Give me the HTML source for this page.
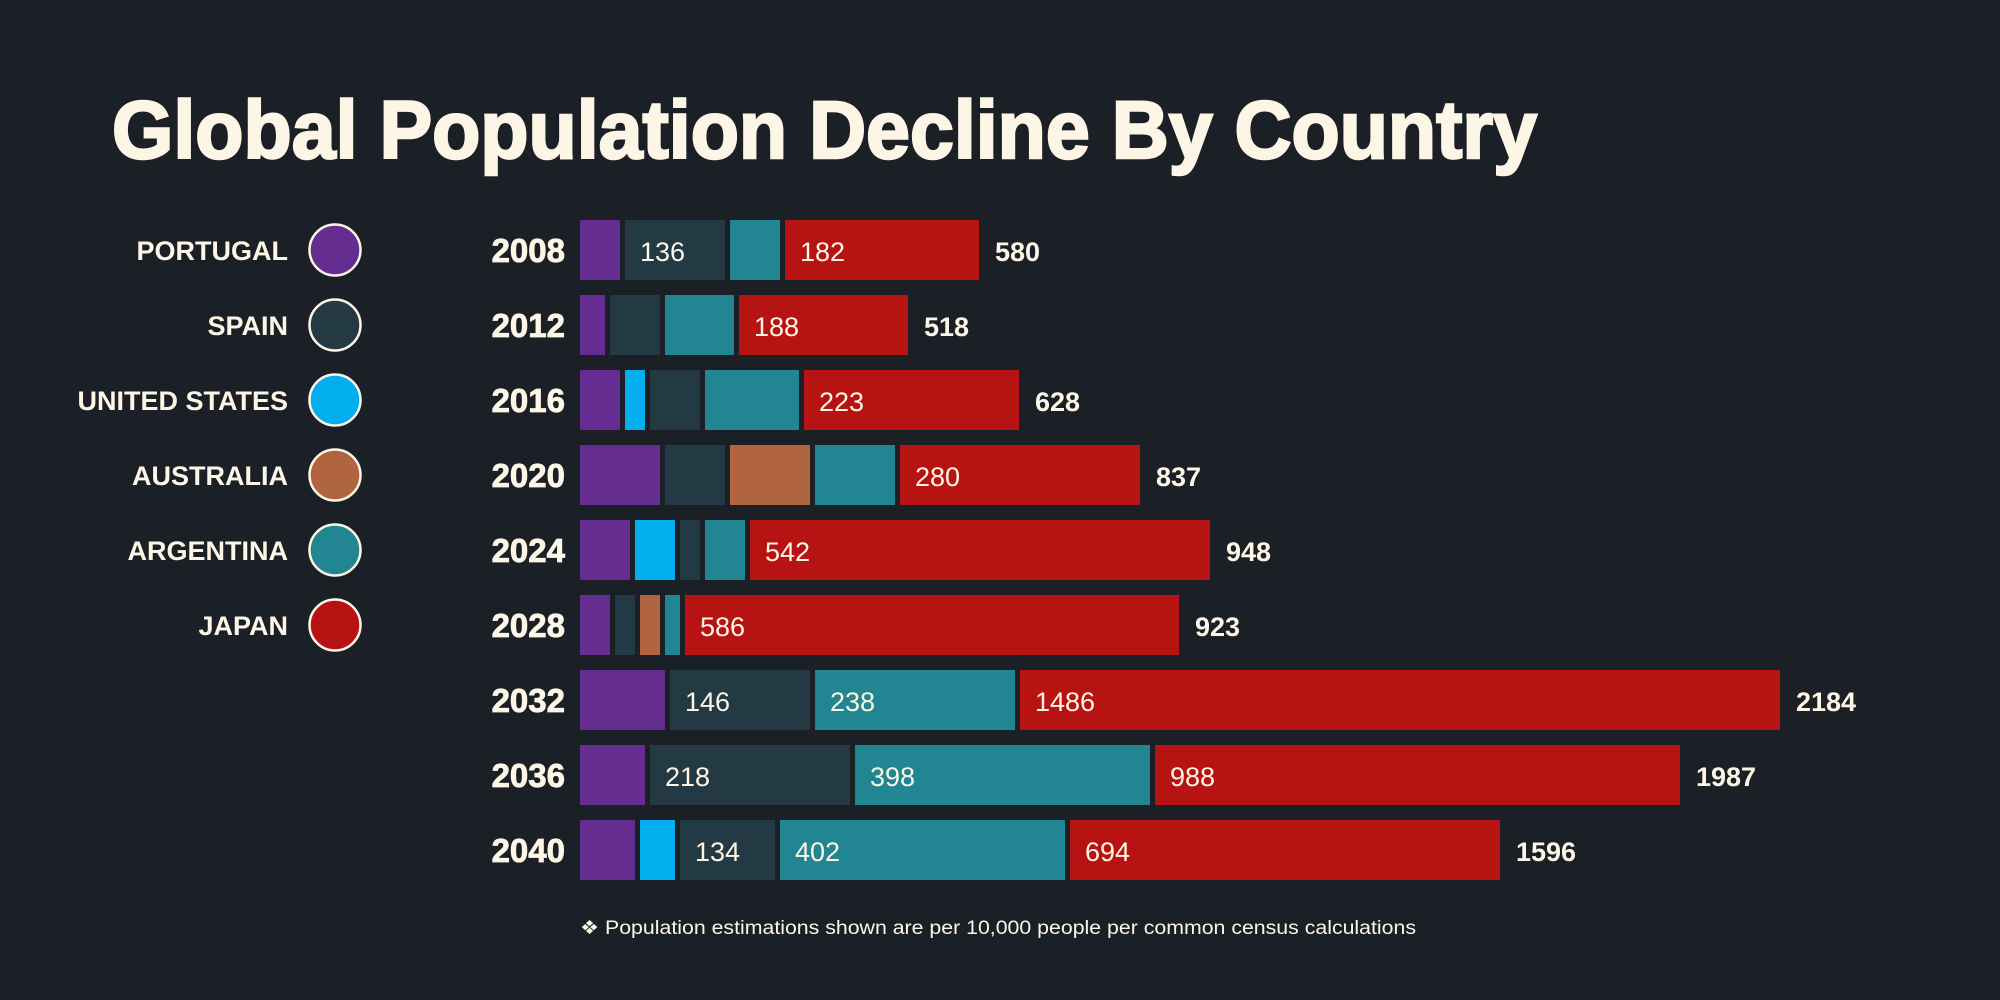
<!DOCTYPE html>
<html><head><meta charset="utf-8"><style>
html,body{margin:0;padding:0;background:#1b1f26;}
svg{display:block;}
text{font-family:"Liberation Sans",sans-serif;}
</style></head><body>
<svg id="chart" width="2000" height="1000" viewBox="0 0 2000 1000">
<rect x="0" y="0" width="2000" height="1000" fill="#1b1f26"/>
<text x="112" y="158" font-size="82" font-weight="bold" fill="#fdf6e6" stroke="#fdf6e6" stroke-width="2.5" textLength="1425" lengthAdjust="spacingAndGlyphs">Global Population Decline By Country</text>
<g id="legend"></g>
<g id="bars"></g>
<text x="580" y="934" font-size="19" fill="#fdf6e6" textLength="836" lengthAdjust="spacingAndGlyphs">❖ Population estimations shown are per 10,000 people per common census calculations</text>
</svg>
<script>
const years = ["2008","2012","2016","2020","2024","2028","2032","2036","2040"];
const seriesNames = ["PORTUGAL","SPAIN","UNITED STATES","AUSTRALIA","ARGENTINA","JAPAN"];
const seriesColors = ["#662d91","#233a45","#03aeef","#b06540","#228692","#b81313"];
const portugal = [40,25,40,80,50,30,85,65,55];
const spain = [100,50,50,60,20,20,140,200,95];
const unitedStates = [0,0,20,0,40,0,0,0,35];
const australia = [0,0,0,80,0,20,0,0,0];
const argentina = [50,69,94,80,40,15,200,295,285];
const japan = [194,169,215,240,460,494,760,525,430];
const spainLabels = ["136","","","","","","146","218","134"];
const argentinaLabels = ["","","","","","","238","398","402"];
const japanLabels = ["182","188","223","280","542","586","1486","988","694"];
const totalLabels = ["580","518","628","837","948","923","2184","1987","1596"];

const NS = "http://www.w3.org/2000/svg";
const x0 = 580, gap = 5, rowTop = 220, pitch = 75, barH = 60;
function xScale(v){ return v * 1.0; }
function yScale(i){ return rowTop + i * pitch; }
function mk(tag, attrs, parent){
  const e = document.createElementNS(NS, tag);
  for (const k in attrs) e.setAttribute(k, attrs[k]);
  parent.appendChild(e); return e;
}
const legend = document.getElementById('legend');
seriesNames.forEach((n, i) => {
  const cy = 250 + i * pitch;
  const t = mk('text', {x:288, y:cy+10, 'font-size':27, 'text-anchor':'end', fill:'#fdf6e6', 'font-weight':'bold'}, legend);
  t.textContent = n;
  
  
  const c = mk('circle', {cx:335, cy:cy, r:25.5, fill:seriesColors[i], stroke:'#fdf6e6', 'stroke-width':2.5}, legend);
  
  
});
const bars = document.getElementById('bars');
// stacking order: Portugal, United States, Spain, Australia, Argentina, Japan
const series = [portugal, unitedStates, spain, australia, argentina, japan];
const colors = [seriesColors[0], seriesColors[2], seriesColors[1], seriesColors[3], seriesColors[4], seriesColors[5]];
const labels = [null, null, spainLabels, null, argentinaLabels, japanLabels];
years.forEach((yr, i) => {
  const y = yScale(i);
  const yl = mk('text', {x:565, y:y+42, 'font-size':33, 'font-weight':'bold', 'text-anchor':'end', fill:'#fdf6e6', stroke:'#fdf6e6', 'stroke-width':0.8}, bars);
  yl.textContent = yr;
  
  
  let x = x0;
  series.forEach((s, k) => {
    const v = s[i];
    if (!v) return;
    const w = xScale(v);
    const r = mk('rect', {x:x, y:y, width:w, height:barH, fill:colors[k]}, bars);
    
    
    if (labels[k] && labels[k][i]) {
      const t = mk('text', {x:x+15, y:y+41, 'font-size':27, fill:'#fdf6e6'}, bars);
      t.textContent = labels[k][i];
      
      
    }
    x += w + gap;
  });
  const tl = mk('text', {x:x-gap+16, y:y+41, 'font-size':27, 'font-weight':'bold', fill:'#fdf6e6'}, bars);
  tl.textContent = totalLabels[i];
  
  
});
</script>
</body></html>
